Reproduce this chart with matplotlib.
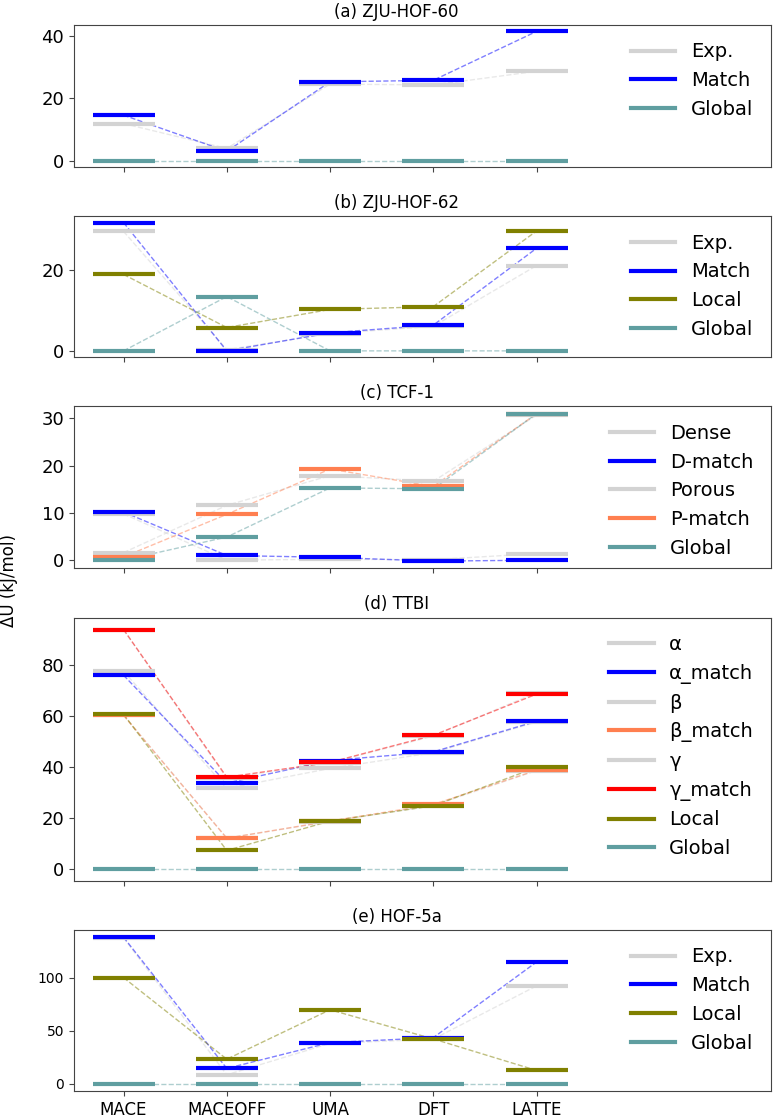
import matplotlib

matplotlib.use('Agg')
import matplotlib.pyplot as plt
import numpy as np

methods = ['MACE', 'MACEOFF', 'UMA', 'DFT', 'LATTE']

# (a) ZJU-HOF-60
hof60_exp = [11.9, 3.9, 24.6, 24.3, 28.7]
hof60_match = [14.6, 3.0, 25.3, 25.8, 41.5]
hof60_global = [0, 0, 0, 0, 0]

# (b) ZJU-HOF-62
hof62_exp = [29.7, 0.3, 4.3, 6.1, 21.2]
hof62_match = [31.9, 0.0, 4.5, 6.4, 25.5]
hof62_local = [19.0, 5.8, 10.3, 11.0, 29.8]
hof62_global = [0, 13.5, 0, 0, 0]

# (c) TCF-1
tcf_dense = [9.8, 0.0, 0.2, 0.1, 1.4]
tcf_dmatch = [10.2, 1.0, 0.6, -0.2, 0.0]
tcf_porous = [1.6, 11.6, 17.9, 16.7, 30.7]
tcf_pmatch = [0.7, 9.7, 19.3, 15.6, 31.0]
tcf_global = [0.0, 4.9, 15.3, 15.1, 31.0]

# (d) TTBI
ttbi_alpha = [77.4, 31.5, 39.3, 45.5, 57.5]
ttbi_alpha_match = [75.8, 33.6, 42.4, 45.8, 57.8]
ttbi_beta = [60.2, 12.0, 18.5, 24.8, 38.5]
ttbi_beta_match = [60.1, 12.0, 18.7, 25.2, 38.6]
ttbi_gamma = [93.6, 35.5, 41.5, 52.0, 69.0]
ttbi_gamma_match = [93.7, 35.9, 41.7, 52.3, 68.4]
ttbi_local = [60.5, 7.2, 18.7, 24.7, 39.7]
ttbi_global = [0, 0, 0, 0, 0]

# (e) HOF-5a
hof5a_exp = [137.5, 8.4, 38.0, 42.0, 92.2]
hof5a_match = [138.1, 14.4, 38.75, 43.4, 114.7]
hof5a_local = [100.0, 23.1, 69.7, 42.2, 12.5]
hof5a_global = [0, 0, 0, 0, 0]

EXP = 'lightgray'
MATCH = 'blue'
LOCAL = 'olive'
GLOBAL = 'cadetblue'

panels = [
    ('(a) ZJU-HOF-60', [('Exp.', EXP, hof60_exp), ('Match', MATCH, hof60_match),
                        ('Global', GLOBAL, hof60_global)]),
    ('(b) ZJU-HOF-62', [('Exp.', EXP, hof62_exp), ('Match', MATCH, hof62_match),
                        ('Local', LOCAL, hof62_local), ('Global', GLOBAL, hof62_global)]),
    ('(c) TCF-1', [('Dense', EXP, tcf_dense), ('D-match', MATCH, tcf_dmatch),
                   ('Porous', EXP, tcf_porous), ('P-match', 'coral', tcf_pmatch),
                   ('Global', GLOBAL, tcf_global)]),
    ('(d) TTBI', [('α', EXP, ttbi_alpha), ('α_match', MATCH, ttbi_alpha_match),
                  ('β', EXP, ttbi_beta), ('β_match', 'coral', ttbi_beta_match),
                  ('γ', EXP, ttbi_gamma), ('γ_match', 'red', ttbi_gamma_match),
                  ('Local', LOCAL, ttbi_local), ('Global', GLOBAL, ttbi_global)]),
    ('(e) HOF-5a', [('Exp.', EXP, hof5a_exp), ('Match', MATCH, hof5a_match),
                    ('Local', LOCAL, hof5a_local), ('Global', GLOBAL, hof5a_global)]),
]

plt.rcParams['font.size'] = 13
plt.rcParams['axes.edgecolor'] = '#444444'
plt.rcParams['xtick.color'] = '#444444'
plt.rcParams['ytick.color'] = '#444444'
plt.rcParams['xtick.labelcolor'] = 'black'
plt.rcParams['ytick.labelcolor'] = 'black'


def plot_levels(ax, series, half=0.3):
    x = np.arange(len(methods))
    for label, color, values in series:
        ax.plot(x, values, '--', color=color, lw=1, alpha=0.5, zorder=1)
        ax.hlines(values, x - half, x + half, color=color, lw=3, zorder=2)
        ax.plot([], [], color=color, lw=3, label=label)
    ax.set_xticks(x)
    ax.set_xlim(-0.48, 6.27)
    ax.legend(loc='upper right', frameon=False, fontsize=14, handlelength=2.3)


fig = plt.figure(figsize=(7.74, 11.19), dpi=100)
gs = fig.add_gridspec(5, 1, height_ratios=[142, 141, 162, 263, 161], hspace=0.282,
                      left=0.0956, right=0.996, top=0.9777, bottom=0.025)

for i, (title, series) in enumerate(panels):
    ax = fig.add_subplot(gs[i])
    plot_levels(ax, series)
    ax.set_title(title, fontsize=12, x=0.463)
    if i < len(panels) - 1:
        ax.set_xticklabels([])
    else:
        ax.set_xticklabels(methods, fontsize=12)
        ax.tick_params(axis='y', labelsize=10)

fig.text(0.012, 0.481, 'ΔU (kJ/mol)', rotation=90, va='center', ha='center', fontsize=12)

fig.savefig('out.png', dpi=100)
plt.close()
